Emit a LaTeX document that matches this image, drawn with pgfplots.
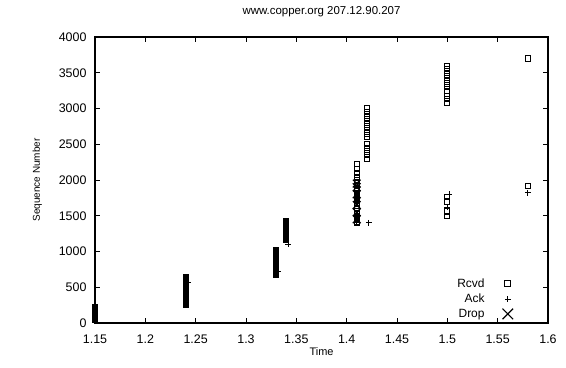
\documentclass[border=0pt]{standalone}
\usepackage{fontspec}
\setmainfont{Liberation Sans}
\usepackage{pgfplots}
\pgfplotsset{compat=1.18}
\begin{document}
\begin{tikzpicture}[x=1bp,y=1bp]
\useasboundingbox (-95bp,-45bp) rectangle (471bp,323bp);
\begin{axis}[
  at={(0,0)}, anchor=south west,
  scale only axis, width=453bp, height=286bp,
  xmin=1.15, xmax=1.6, ymin=0, ymax=4000,
  xtick={1.15,1.2,1.25,1.3,1.35,1.4,1.45,1.5,1.55,1.6},
  ytick={0,500,1000,1500,2000,2500,3000,3500,4000},
  tick align=inside, major tick length=5bp,
  axis line style={line width=1.1pt},
  every tick/.style={black, line width=1pt},
  /pgf/number format/assume math mode=true,
  /pgf/number format/1000 sep={},
  yticklabel style={/pgf/number format/fixed, xshift=-5bp},
  xticklabel style={/pgf/number format/fixed, /pgf/number format/precision=2, yshift=-8bp},
  tick label style={font=\fontsize{12.5}{14}\selectfont},
  title={www.copper.org 207.12.90.207},
  title style={font=\fontsize{11.5}{13}\selectfont, yshift=11bp},
  xlabel={Time}, ylabel={Sequence Number},
  xlabel style={font=\fontsize{11}{13}\selectfont, yshift=3bp},
  ylabel style={font=\fontsize{10}{12}\selectfont, yshift=10bp},
  legend style={draw=none, fill=none, at={(0.93,0.0)}, anchor=south east,
    font=\fontsize{12}{12}\selectfont, row sep=1bp,
    /tikz/every odd column/.style={column sep=16bp}},
  legend cell align=right,
  legend plot pos=right,
]
\addplot[only marks, mark=square, mark size=2.6pt, mark options={line width=0.9pt, black},
  legend image post style={mark size=3pt}] coordinates {
(1.15,40)(1.15,50)(1.15,60)(1.15,70)(1.15,80)(1.15,90)(1.15,100)(1.15,110)(1.15,120)(1.15,130)(1.15,140)(1.15,150)(1.15,160)(1.15,170)(1.15,180)(1.15,190)(1.15,200)(1.15,210)(1.15,220)
(1.24,260)(1.24,270)(1.24,280)(1.24,290)(1.24,300)(1.24,310)(1.24,320)(1.24,330)(1.24,340)(1.24,350)(1.24,360)(1.24,370)(1.24,380)(1.24,390)(1.24,400)(1.24,410)(1.24,420)
(1.24,480)(1.24,490)(1.24,500)(1.24,510)(1.24,520)(1.24,530)(1.24,540)(1.24,550)(1.24,560)(1.24,570)(1.24,580)(1.24,590)(1.24,600)(1.24,610)(1.24,620)(1.24,630)(1.24,640)
(1.33,680)(1.33,690)(1.33,700)(1.33,710)(1.33,720)(1.33,730)(1.33,740)(1.33,750)(1.33,760)(1.33,770)(1.33,780)(1.33,790)(1.33,800)(1.33,810)(1.33,820)(1.33,830)(1.33,840)(1.33,860)(1.33,870)(1.33,880)(1.33,890)(1.33,900)(1.33,910)(1.33,920)(1.33,930)(1.33,950)(1.33,960)(1.33,970)(1.33,980)(1.33,990)(1.33,1000)(1.33,1010)(1.33,1020)
(1.34,1160)(1.34,1170)(1.34,1180)(1.34,1190)(1.34,1200)(1.34,1210)(1.34,1220)(1.34,1230)(1.34,1240)(1.34,1250)(1.34,1260)(1.34,1270)(1.34,1280)(1.34,1300)(1.34,1310)(1.34,1320)(1.34,1330)(1.34,1340)(1.34,1350)(1.34,1360)(1.34,1370)(1.34,1380)(1.34,1390)(1.34,1400)(1.34,1410)(1.34,1420)
(1.41,1400)(1.41,1420)(1.41,1440)(1.41,1460)(1.41,1480)(1.41,1500)(1.41,1520)(1.41,1540)(1.41,1560)(1.41,1600)(1.41,1640)(1.41,1680)(1.41,1720)(1.41,1740)(1.41,1760)(1.41,1780)(1.41,1800)(1.41,1820)(1.41,1840)(1.41,1860)(1.41,1880)(1.41,1920)(1.41,1960)(1.41,2000)(1.41,2040)(1.41,2100)(1.41,2160)(1.41,2220)
(1.42,2300)(1.42,2350)(1.42,2400)(1.42,2450)(1.42,2500)(1.42,2600)(1.42,2650)(1.42,2700)(1.42,2750)(1.42,2800)(1.42,2850)(1.42,2900)(1.42,2950)(1.42,3000)
(1.5,3080)(1.5,3130)(1.5,3180)(1.5,3250)(1.5,3300)(1.5,3350)(1.5,3400)(1.5,3450)(1.5,3500)(1.5,3550)(1.5,3600)
(1.5,1500)(1.5,1560)(1.5,1700)(1.5,1760)
(1.58,3700)(1.58,1920)
};
\addlegendentry{Rcvd}
\addplot[only marks, mark=+, mark size=3pt, mark options={line width=1pt, black}] coordinates {
(1.242,570)(1.332,720)(1.342,1100)(1.41,1400)(1.422,1400)
(1.502,1800)(1.5,1620)(1.58,1820)
};
\addlegendentry{Ack}
\addplot[only marks, mark=x, mark size=5.5pt, mark options={line width=1.2pt, black},
  legend image post style={mark size=7.5pt}] coordinates {
(1.41,1950)(1.41,1900)(1.41,1800)(1.41,1650)(1.41,1550)(1.41,1450)
};
\addlegendentry{Drop}
\end{axis}
\end{tikzpicture}
\end{document}
